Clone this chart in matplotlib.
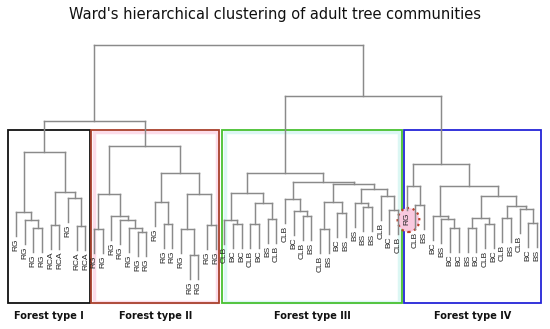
import matplotlib.pyplot as plt
from matplotlib.patches import Rectangle, Ellipse

# leaf labels in dendrogram order (61 plots)
labels_I = ["RG", "RG", "RG", "RG", "RCA", "RCA", "RG", "RCA", "RCA"]
labels_II = ["RG"] * 15
labels_III = ["CLB", "BC", "BC", "CLB", "BC", "BS", "CLB", "CLB", "BC", "CLB", "BS",
              "CLB", "BS", "BC", "BS", "BS", "BS", "BS", "CLB", "BC", "CLB"]
labels_IV = ["RG", "CLB", "BS", "BC", "BS", "BC", "BC", "BS", "BC", "CLB", "BC",
             "CLB", "BS", "CLB", "BC", "BS"]
leaf_labels = labels_I + labels_II + labels_III + labels_IV

# merges: (name, left, right, height); ints are leaf indices
merges = [
    ("i1", 2, 3, 7.2), ("i2", 1, "i1", 8.0), ("i3", 0, "i2", 8.8),
    ("i4", 4, 5, 7.5), ("i5", 7, 8, 7.4), ("i6", 6, "i5", 10.2),
    ("i7", "i4", "i6", 10.8), ("I", "i3", "i7", 14.8),

    ("ii1", 9, 10, 7.1), ("ii2", 14, 15, 6.8), ("ii3", 13, "ii2", 7.2),
    ("ii4", 12, "ii3", 8.0), ("ii5", 11, "ii4", 8.4), ("ii6", "ii1", "ii5", 10.6),
    ("ii7", 17, 18, 7.6), ("ii8", 16, "ii7", 9.8), ("ii9", 20, 21, 4.5),
    ("ii10", 19, "ii9", 7.1), ("ii11", 22, 23, 7.5), ("ii12", "ii10", "ii11", 10.6),
    ("ii13", "ii8", "ii12", 12.7), ("II", "ii6", "ii13", 15.4),

    ("iii1", 25, 26, 7.6), ("iii2", 24, "iii1", 8.0), ("iii3", 27, 28, 7.6),
    ("iii4", 29, 30, 8.1), ("iii5", "iii3", "iii4", 9.7), ("iii6", "iii2", "iii5", 10.7),
    ("iii7", 33, 34, 8.4), ("iii8", 32, "iii7", 8.9), ("iii9", 31, "iii8", 10.1),
    ("iii10", 35, 36, 7.1), ("iii11", 37, 38, 8.7), ("iii12", "iii10", "iii11", 9.8),
    ("iii13", 40, 41, 9.3), ("iii14", 39, "iii13", 9.7), ("iii15", 43, 44, 9.0),
    ("iii16", 42, "iii15", 10.4), ("iii17", "iii14", "iii16", 11.1),
    ("iii18", "iii12", "iii17", 11.6), ("iii19", "iii9", "iii18", 11.8),
    ("III", "iii6", "iii19", 12.7),

    ("iv1", 46, 47, 9.5), ("iv2", 45, "iv1", 11.4), ("iv3", 50, 51, 7.2),
    ("iv4", 49, "iv3", 8.1), ("iv5", 48, "iv4", 8.4), ("iv6", 52, 53, 7.2),
    ("iv7", 54, 55, 7.6), ("iv8", "iv6", "iv7", 8.2), ("iv9", 56, 57, 8.2),
    ("iv10", 59, 60, 7.7), ("iv11", 58, "iv10", 9.1), ("iv12", "iv9", "iv11", 9.4),
    ("iv13", "iv8", "iv12", 10.4), ("iv14", "iv5", "iv13", 11.4),
    ("IV", "iv2", "iv14", 13.6),

    ("left", "I", "II", 17.9), ("right", "III", "IV", 20.4),
    ("root", "left", "right", 25.5),
]

group_names = ["Forest type I", "Forest type II", "Forest type III", "Forest type IV"]
group_sizes = [len(labels_I), len(labels_II), len(labels_III), len(labels_IV)]
group_colors = ["#111111", "#a8402c", "#48c030", "#2424d8"]
group_glow = [None, "#fcdce9", "#dcf7f4", None]
box_pad = [(0.9, 0.5), (0.35, 0.4), (0.25, 0.45), (0.3, 0.5)]

hang = 2.4
line_col = "#8a8a8a"
n_leaves = len(leaf_labels)

fig = plt.figure(figsize=(5.5, 3.29), dpi=100)
ax = fig.add_axes([0, 0, 1, 1])
ax.set_xlim(-1.84, 61.5)
ax.set_ylim(-2.9, 30)
ax.axis("off")

# boxes around the four forest types
start = 0
for name, n, col, glow, (pl, pr) in zip(group_names, group_sizes, group_colors,
                                         group_glow, box_pad):
    x0 = start - pl
    x1 = start + n - 1 + pr
    if glow:
        ax.add_patch(Rectangle((x0 + 0.3, -0.15), x1 - x0 - 0.6, 16.95, fill=False,
                               edgecolor=glow, lw=2.5, zorder=1))
    ax.add_patch(Rectangle((x0, -0.3), x1 - x0, 17.3, fill=False,
                           edgecolor=col, lw=1.3, zorder=2))
    ax.text((x0 + x1) / 2, -1.6, name, ha="center", va="center",
            fontsize=7, fontweight="bold", color="#111111")
    start += n

# highlighted misplaced plot
ax.add_patch(Ellipse((45.2, 8.0), 2.5, 2.4, facecolor="#f9c9df", edgecolor="#b8402a",
                     lw=1.6, ls=":", zorder=2))

# dendrogram
xpos = {i: float(i) for i in range(n_leaves)}
hpos = {}
for name, a, b, h in merges:
    for c in (a, b):
        if isinstance(c, int):
            ax.plot([xpos[c], xpos[c]], [h, h - hang], color=line_col, lw=1.05, zorder=3)
            ax.text(xpos[c], h - hang - 0.25, leaf_labels[c], rotation=90,
                    ha="center", va="top", fontsize=6, family="Liberation Sans",
                    color="#222222", zorder=4)
        else:
            ax.plot([xpos[c], xpos[c]], [h, hpos[c]], color=line_col, lw=1.05, zorder=3)
    ax.plot([xpos[a], xpos[b]], [h, h], color=line_col, lw=1.05, zorder=3)
    xpos[name] = (xpos[a] + xpos[b]) / 2
    hpos[name] = h

ax.text((n_leaves - 1) / 2 - 0.2, 28.5,
        "Ward's hierarchical clustering of adult tree communities",
        ha="center", va="center", fontsize=10.5, color="#111111")

fig.savefig("out.png", dpi=100)
